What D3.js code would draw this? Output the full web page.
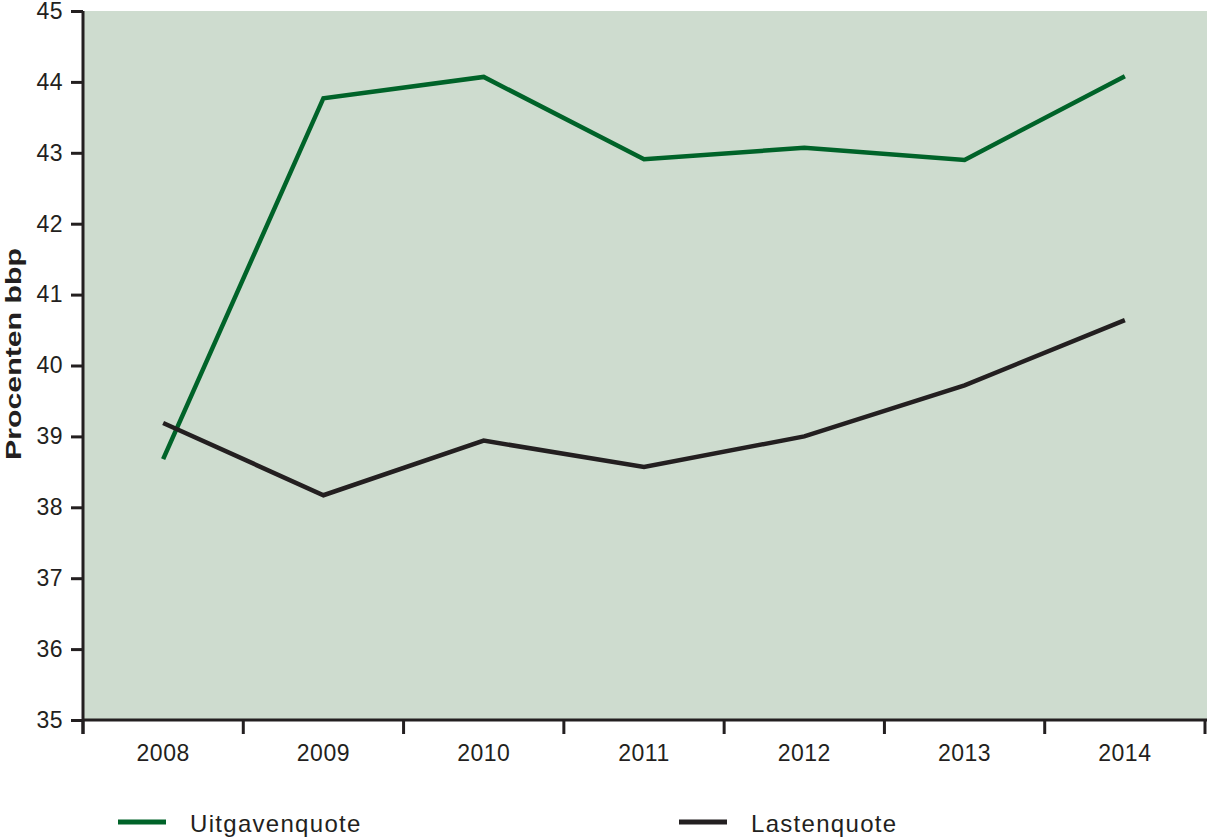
<!DOCTYPE html>
<html>
<head>
<meta charset="utf-8">
<script src="https://cdn.jsdelivr.net/npm/d3@7"></script>
<style>
  body { margin: 0; background: #fff; }
  svg { display: block; font-family: "Liberation Sans", Arial, sans-serif; }
</style>
</head>
<body>
<div id="chart"></div>
<script>
var years = ['2008', '2009', '2010', '2011', '2012', '2013', '2014'];
var uitgavenquote = [38.68, 43.77, 44.07, 42.91, 43.07, 42.9, 44.08];
var lastenquote = [39.19, 38.17, 38.94, 38.57, 39.0, 39.72, 40.64];
var yTicks = [35, 36, 37, 38, 39, 40, 41, 42, 43, 44, 45];

var width = 1207, height = 838;
var margin = {top: 11, right: 2, bottom: 118, left: 83};
var w = width - margin.left - margin.right,
    h = height - margin.top - margin.bottom;

var svg = d3.select('#chart').append('svg')
    .attr('width', width)
    .attr('height', height);

var graph = svg.append('g')
    .attr('transform', 'translate(' + margin.left + ',' + margin.top + ')');

var x = d3.scaleBand()
    .domain(years)
    .range([0, w]);

var y = d3.scaleLinear()
    .domain([35, 45])
    .range([h, 0]);

// plot background
graph.append('rect')
    .attr('width', w + 2)
    .attr('height', h)
    .attr('fill', '#cedccf');

// lines
var line = d3.line()
    .x(function(d, i) { return x(years[i]) + x.bandwidth() / 2; })
    .y(function(d) { return y(d); });

graph.append('path')
    .datum(uitgavenquote)
    .attr('fill', 'none')
    .attr('stroke', '#006329')
    .attr('stroke-width', 4.5)
    .attr('d', line);

graph.append('path')
    .datum(lastenquote)
    .attr('fill', 'none')
    .attr('stroke', '#231f20')
    .attr('stroke-width', 4.5)
    .attr('d', line);

// y axis
var yAxis = graph.append('g')
    .call(d3.axisLeft(y).tickValues(yTicks).tickSize(12).tickSizeOuter(0).tickPadding(8));
yAxis.select('.domain')
    .attr('stroke', '#231f20')
    .attr('stroke-width', 3)
    .attr('d', 'M0,' + (h + 14) + 'V0');
yAxis.selectAll('.tick line')
    .attr('stroke', '#231f20')
    .attr('stroke-width', 3);
yAxis.selectAll('.tick text')
    .attr('fill', '#231f20')
    .style('font-size', '23px')
    .style('letter-spacing', '0.5px')
    .style('font-family', '"Liberation Sans", Arial, sans-serif');

// x axis: ticks on band boundaries
var xAxis = graph.append('g')
    .attr('transform', 'translate(0,' + h + ')');
xAxis.append('line')
    .attr('x1', 0).attr('x2', w + 2)
    .attr('stroke', '#231f20')
    .attr('stroke-width', 3);
var bounds = years.map(function(d) { return x(d); }).concat([w]);
xAxis.selectAll('.xtick')
    .data(bounds)
    .enter().append('line')
    .attr('class', 'xtick')
    .attr('x1', function(d) { return d; })
    .attr('x2', function(d) { return d; })
    .attr('y1', 0).attr('y2', 14)
    .attr('stroke', '#231f20')
    .attr('stroke-width', 3);
xAxis.selectAll('.xlabel')
    .data(years)
    .enter().append('text')
    .attr('class', 'xlabel')
    .attr('x', function(d) { return x(d) + x.bandwidth() / 2; })
    .attr('y', 41)
    .attr('text-anchor', 'middle')
    .attr('fill', '#231f20')
    .style('font-size', '23px')
    .style('letter-spacing', '0.5px')
    .text(function(d) { return d; });

// y title
svg.append('text')
    .attr('transform', 'translate(21,354) rotate(-90)')
    .attr('text-anchor', 'middle')
    .attr('fill', '#231f20')
    .style('font-size', '22px')
    .style('font-weight', 'bold')
    .attr('textLength', 212)
    .attr('lengthAdjust', 'spacingAndGlyphs')
    .text('Procenten bbp');

// legend
var legend = [
    {name: 'Uitgavenquote', color: '#006329', x: 118},
    {name: 'Lastenquote', color: '#231f20', x: 679}
];
var lg = svg.selectAll('.legend')
    .data(legend)
    .enter().append('g')
    .attr('class', 'legend')
    .attr('transform', function(d) { return 'translate(' + d.x + ',822)'; });
lg.append('line')
    .attr('x1', 0).attr('x2', 48)
    .attr('stroke', function(d) { return d.color; })
    .attr('stroke-width', 5);
lg.append('text')
    .attr('x', 72)
    .attr('y', 10)
    .attr('fill', '#231f20')
    .style('font-size', '24px')
    .style('letter-spacing', '1.3px')
    .text(function(d) { return d.name; });
</script>
</body>
</html>
